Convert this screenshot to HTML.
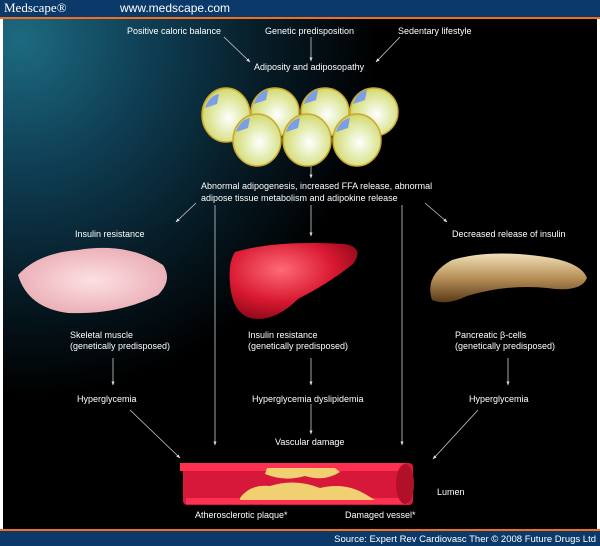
<!DOCTYPE html>
<html><head><style>
html,body{margin:0;padding:0;background:#000;}
svg{display:block;}
text{font-family:"Liberation Sans",Arial,sans-serif;fill:#fff;font-size:9px;}
</style></head><body>
<svg width="600" height="546" viewBox="0 0 600 546" xmlns="http://www.w3.org/2000/svg">
<defs>
<radialGradient id="bg" cx="20" cy="40" r="420" gradientUnits="userSpaceOnUse">
<stop offset="0" stop-color="#1d6a80"/><stop offset="0.3" stop-color="#0f3f55"/><stop offset="0.6" stop-color="#061a24"/><stop offset="0.85" stop-color="#000"/>
</radialGradient>
<radialGradient id="cell" cx="0.55" cy="0.55" r="0.6">
<stop offset="0" stop-color="#ffffff"/><stop offset="0.4" stop-color="#e8f0c0"/><stop offset="0.85" stop-color="#d6dc78"/><stop offset="1" stop-color="#c8b840"/>
</radialGradient>
<radialGradient id="muscle" cx="0.5" cy="0.5" r="0.6"><stop offset="0" stop-color="#fde0e4"/><stop offset="1" stop-color="#e8a8b0"/></radialGradient>
<radialGradient id="liver" cx="0.4" cy="0.35" r="0.7"><stop offset="0" stop-color="#ff6a78"/><stop offset="0.6" stop-color="#d81830"/><stop offset="1" stop-color="#8a0818"/></radialGradient>
<linearGradient id="panc" x1="0" y1="0" x2="0" y2="1"><stop offset="0" stop-color="#f0e0b8"/><stop offset="0.5" stop-color="#b89058"/><stop offset="1" stop-color="#5a3a18"/></linearGradient>
<marker id="a" viewBox="0 0 10 10" refX="9" refY="5" markerWidth="5" markerHeight="5" orient="auto"><path d="M0,1 L10,5 L0,9 z" fill="#ddd"/></marker>
</defs>
<rect width="600" height="546" fill="#000"/>
<rect x="0" y="18" width="600" height="512" fill="url(#bg)"/>
<rect x="0" y="18" width="3" height="512" fill="#fff"/>
<rect x="597" y="18" width="3" height="512" fill="#fff"/>
<rect width="600" height="17" fill="#0b3a6a"/>
<rect y="17" width="600" height="2" fill="#f07020"/>
<text x="4" y="12" style="font-family:'Liberation Serif',serif;font-size:13px">Medscape®</text>
<text x="120" y="12" style="font-size:12px">www.medscape.com</text>
<rect y="529" width="600" height="2" fill="#f07020"/>
<rect y="531" width="600" height="15" fill="#0b3a6a"/>
<text x="596" y="542" text-anchor="end" style="font-size:9.5px">Source: Expert Rev Cardiovasc Ther © 2008 Future Drugs Ltd</text>

<g stroke="#ccc" stroke-width="0.8" fill="none" marker-end="url(#a)">
<line x1="224" y1="37" x2="250" y2="62"/>
<line x1="311" y1="37" x2="311" y2="61"/>
<line x1="400" y1="37" x2="376" y2="62"/>
<line x1="311" y1="157" x2="311" y2="178"/>
<line x1="196" y1="203" x2="176" y2="222"/>
<line x1="311" y1="205" x2="311" y2="236"/>
<line x1="425" y1="203" x2="447" y2="222"/>
<line x1="215" y1="205" x2="215" y2="445"/>
<line x1="402" y1="205" x2="402" y2="445"/>
<line x1="113" y1="358" x2="113" y2="385"/>
<line x1="311" y1="358" x2="311" y2="385"/>
<line x1="508" y1="358" x2="508" y2="385"/>
<line x1="130" y1="410" x2="180" y2="458"/>
<line x1="311" y1="404" x2="311" y2="434"/>
<line x1="478" y1="410" x2="433" y2="459"/>
</g>

<text x="127" y="34">Positive caloric balance</text>
<text x="265" y="34">Genetic predisposition</text>
<text x="398" y="34">Sedentary lifestyle</text>
<text x="254" y="70">Adiposity and adiposopathy</text>
<text x="201" y="189">Abnormal adipogenesis, increased FFA release, abnormal</text>
<text x="201" y="201">adipose tissue metabolism and adipokine release</text>
<text x="75" y="237">Insulin resistance</text>
<text x="452" y="237">Decreased release of insulin</text>
<text x="70" y="338">Skeletal muscle</text>
<text x="70" y="349">(genetically predisposed)</text>
<text x="248" y="338">Insulin resistance</text>
<text x="248" y="349">(genetically predisposed)</text>
<text x="455" y="338">Pancreatic β-cells</text>
<text x="455" y="349">(genetically predisposed)</text>
<text x="77" y="402">Hyperglycemia</text>
<text x="252" y="402">Hyperglycemia dyslipidemia</text>
<text x="469" y="402">Hyperglycemia</text>
<text x="275" y="445">Vascular damage</text>
<text x="437" y="495">Lumen</text>
<text x="195" y="518">Atherosclerotic plaque*</text>
<text x="345" y="518">Damaged vessel*</text>

<g stroke="#c9a830" stroke-width="1.5" fill="url(#cell)">
<ellipse cx="226" cy="115" rx="24" ry="27"/>
<ellipse cx="275" cy="112" rx="24" ry="24"/>
<ellipse cx="325" cy="112" rx="24" ry="24"/>
<ellipse cx="374" cy="112" rx="24" ry="24"/>
<ellipse cx="257" cy="140" rx="24" ry="26"/>
<ellipse cx="307" cy="140" rx="24" ry="26"/>
<ellipse cx="357" cy="140" rx="24" ry="26"/>
</g>
<g fill="#7a9ee8">
<path d="M205,108 q4,-12 14,-14 l-2,10 z"/><path d="M254,104 q4,-12 14,-14 l-2,10 z"/>
<path d="M304,104 q4,-12 14,-14 l-2,10 z"/><path d="M353,104 q4,-12 14,-14 l-2,10 z"/>
<path d="M236,132 q4,-12 14,-14 l-2,10 z"/><path d="M286,132 q4,-12 14,-14 l-2,10 z"/>
<path d="M336,132 q4,-12 14,-14 l-2,10 z"/>
</g>

<path d="M18,275 q20,-22 60,-25 q50,-8 85,15 q10,15 -5,30 q-40,20 -90,18 q-40,-5 -50,-38z" fill="url(#muscle)"/>
<path d="M235,252 q40,-12 110,-8 q20,4 8,20 q-25,20 -55,35 q-20,20 -40,20 q-25,0 -28,-35 q-2,-22 5,-32z" fill="url(#liver)"/>
<path d="M432,300 q-8,-25 20,-40 q40,-12 100,-2 q30,6 35,20 q-6,15 -40,10 q-40,-4 -80,8 q-20,10 -35,4z" fill="url(#panc)"/>

<rect x="183" y="463" width="230" height="42" rx="4" fill="#d8183a"/>
<rect x="180" y="463" width="225" height="8" fill="#ff3050"/>
<rect x="186" y="498" width="222" height="6" fill="#ff3050"/>
<ellipse cx="405" cy="484" rx="9" ry="20" fill="#b01028"/>
<path d="M265,474 q20,8 40,2 q20,6 35,-4 l-5,-4 h-68z" fill="#f0d070"/>
<path d="M240,498 q10,-14 30,-12 q25,-8 50,2 q25,-6 45,6 l10,6 h-135z" fill="#f0d070"/>
</svg>
</body></html>
